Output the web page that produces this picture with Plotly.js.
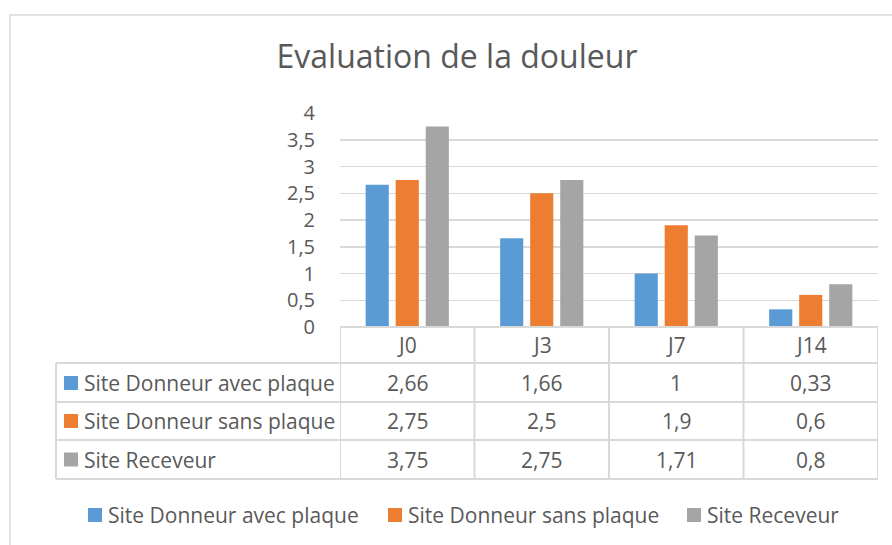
<!DOCTYPE html>
<html><head><meta charset="utf-8">
<script src="https://cdn.plot.ly/plotly-3.0.1.min.js"></script>
<style>html,body{margin:0;padding:0;background:#fff}#chart{width:892px;height:545px}</style>
</head><body><div id="chart"></div>
<script>
const categories = ['J0', 'J3', 'J7', 'J14'];
const seriesNames = ['Site Donneur avec plaque', 'Site Donneur sans plaque', 'Site Receveur'];
const donneurAvecPlaque = [2.66, 1.66, 1, 0.33];
const donneurSansPlaque = [2.75, 2.5, 1.9, 0.6];
const receveur = [3.75, 2.75, 1.71, 0.8];
const yTickVals = [0, 0.5, 1, 1.5, 2, 2.5, 3, 3.5, 4];
const titleText = 'Evaluation de la douleur';

const seriesValues = [donneurAvecPlaque, donneurSansPlaque, receveur];
const colors = ['#5B9BD5', '#ED7D31', '#A5A5A5'];
const FONT = '"Open Sans", "Noto Sans", sans-serif';
const TXT = '#595959';
const LINE = '#D9D9D9';

const W = 892, H = 545;
const M = {l: 340, r: 14, t: 113, b: 218};
const PW = W - M.l - M.r, PH = H - M.t - M.b;
const axisY = M.t + PH;
const px = x => (x - M.l) / PW;
const py = y => (axisY - y) / PH;

const traces = seriesValues.map((vals, i) => ({
  type: 'bar', name: seriesNames[i], x: categories, y: vals,
  marker: {color: colors[i]}, hoverinfo: 'skip'
}));

const shapes = [];
const annotations = [];
const rowEdges = [327, 363, 402, 440, 479];
const rowCenters = [383, 421, 459.5];
const headerCenter = 345;
const tableLeft = 56;

// outer chart border
shapes.push({type: 'rect', xref: 'paper', yref: 'paper', x0: px(10), x1: px(905), y0: py(15), y1: py(560),
  line: {color: LINE, width: 1.5}, fillcolor: 'rgba(0,0,0,0)'});

// horizontal table lines
rowEdges.forEach((e, k) => {
  shapes.push({type: 'line', xref: 'paper', yref: 'paper',
    x0: k === 0 ? 0 : px(tableLeft), x1: 1, y0: py(e), y1: py(e), line: {color: LINE, width: 2}});
});
// vertical table lines at category boundaries
for (let i = 0; i <= categories.length; i++) {
  shapes.push({type: 'line', xref: 'x', yref: 'paper', x0: i - 0.5, x1: i - 0.5,
    y0: py(rowEdges[0]), y1: py(rowEdges[4]), line: {color: LINE, width: 2}});
}
shapes.push({type: 'line', xref: 'paper', yref: 'paper', x0: px(tableLeft), x1: px(tableLeft),
  y0: py(rowEdges[1]), y1: py(rowEdges[4]), line: {color: LINE, width: 2}});

const tfont = {family: FONT, size: 21, color: TXT};
// header
categories.forEach((c, i) => {
  annotations.push({xref: 'x', yref: 'paper', x: i, y: py(headerCenter), text: c, showarrow: false,
    xanchor: 'center', yanchor: 'middle', font: tfont});
});
// rows
seriesNames.forEach((name, r) => {
  const yc = py(rowCenters[r]);
  shapes.push({type: 'rect', xref: 'paper', yref: 'paper', x0: px(64), x1: px(78),
    y0: py(rowCenters[r] - 7), y1: py(rowCenters[r] + 7), fillcolor: colors[r], line: {width: 0}});
  annotations.push({xref: 'paper', yref: 'paper', x: px(82), y: yc, text: name, showarrow: false,
    xanchor: 'left', yanchor: 'middle', font: tfont});
  seriesValues[r].forEach((v, i) => {
    annotations.push({xref: 'x', yref: 'paper', x: i, y: yc, text: String(v).replace('.', ','),
      showarrow: false, xanchor: 'center', yanchor: 'middle', font: tfont});
  });
});
// legend
const legendSquares = [88, 388, 687];
const legendY = 515;
seriesNames.forEach((name, r) => {
  const x0 = legendSquares[r];
  shapes.push({type: 'rect', xref: 'paper', yref: 'paper', x0: px(x0), x1: px(x0 + 14),
    y0: py(legendY - 7), y1: py(legendY + 7), fillcolor: colors[r], line: {width: 0}});
  annotations.push({xref: 'paper', yref: 'paper', x: px(x0 + 18), y: py(legendY), text: name,
    showarrow: false, xanchor: 'left', yanchor: 'middle', font: tfont});
});

const layout = {
  width: W, height: H, margin: M,
  paper_bgcolor: '#fff', plot_bgcolor: '#fff',
  separators: ', ',
  showlegend: false,
  barmode: 'group', bargap: 0.33, bargroupgap: 0.23,
  title: {text: titleText, x: 457 / W, xanchor: 'center', y: 1 - 57 / H, yanchor: 'middle',
    yref: 'container', font: {family: FONT, size: 32, color: TXT}},
  xaxis: {type: 'category', range: [-0.5, 3.5], showticklabels: false, showgrid: false,
    zeroline: false, showline: false, ticks: ''},
  yaxis: {range: [0, 4], tickvals: yTickVals, showgrid: true, gridcolor: LINE, gridwidth: 1.5,
    zeroline: false, showline: false, ticks: 'outside', ticklen: 20, tickcolor: 'rgba(0,0,0,0)',
    tickfont: {family: FONT, size: 20, color: TXT}},
  shapes: shapes, annotations: annotations
};

Plotly.newPlot('chart', traces, layout, {staticPlot: true, displayModeBar: false});
</script>
</body></html>
